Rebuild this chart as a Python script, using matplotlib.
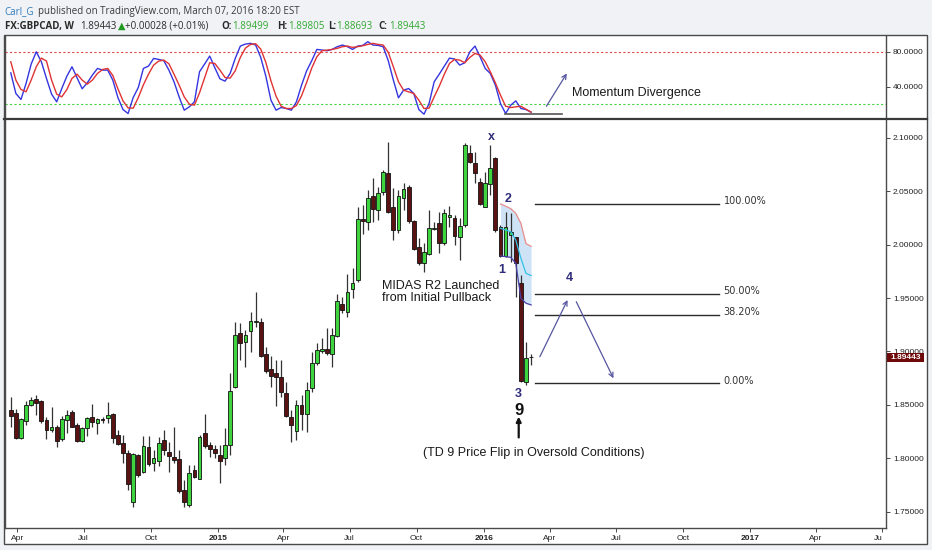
import matplotlib
matplotlib.use("Agg")
import matplotlib.pyplot as plt
import matplotlib.dates as mdates
import numpy as np
import pandas as pd
from matplotlib.patches import Rectangle
from matplotlib.lines import Line2D
from matplotlib.transforms import blended_transform_factory

# ---------------- data ----------------
week_start = "2014-03-23"
week_end = "2016-03-06"

opens = [1.8453, 1.8422, 1.8188, 1.8353, 1.8500, 1.8553, 1.8537, 1.8360, 1.8266, 1.8297,
         1.8179, 1.8360, 1.8431, 1.8307, 1.8166, 1.8282, 1.8385, 1.8335, 1.8366, 1.8375,
         1.8413, 1.8219, 1.8147, 1.8048, 1.7586, 1.8032, 1.7876, 1.8110, 1.7954, 1.7970,
         1.8172, 1.8063, 1.8016, 1.7991, 1.7704, 1.7564, 1.7892, 1.7810, 1.8241, 1.8126,
         1.8085, 1.8032, 1.8007, 1.8126, 1.8672, 1.9177, 1.9093, 1.9193, 1.9280, 1.9274,
         1.8974, 1.8837, 1.8796, 1.8765, 1.8609, 1.8385, 1.8257, 1.8500, 1.8413, 1.8656,
         1.8890, 1.9006, 1.9021, 1.8974, 1.9146, 1.9445, 1.9374, 1.9583, 1.9670, 2.0238,
         2.0216, 2.0456, 2.0325, 2.0497, 2.0668, 2.0356, 2.0138, 2.0434, 2.0544, 2.0225,
         1.9982, 1.9832, 1.9913, 2.0150, 2.0200, 2.0013, 2.0256, 2.0247, 2.0076, 2.0185,
         2.0862, 2.0762, 2.0590, 2.0356, 2.0569, 2.0809, 2.0169, 1.9895, 2.0091, 2.0076,
         1.9645, 1.8718, 1.89499]
highs = [1.8572, 1.8459, 1.8381, 1.8541, 1.8578, 1.8594, 1.8547, 1.8390, 1.8478, 1.8310,
         1.8397, 1.8453, 1.8453, 1.8328, 1.8297, 1.8391, 1.8509, 1.8381, 1.8385, 1.8525,
         1.8422, 1.8266, 1.8219, 1.8079, 1.8054, 1.8041, 1.8204, 1.8204, 1.8079, 1.8197,
         1.8266, 1.8157, 1.8291, 1.8079, 1.7798, 1.7938, 1.7938, 1.8219, 1.8413, 1.8157,
         1.8126, 1.8126, 1.8282, 1.8803, 1.9274, 1.9264, 1.9202, 1.9374, 1.9555, 1.9318,
         1.9046, 1.8959, 1.8921, 1.8921, 1.8718, 1.8453, 1.8547, 1.8594, 1.8712, 1.8999,
         1.9077, 1.9124, 1.9218, 1.9218, 1.9539, 1.9514, 1.9726, 1.9785, 2.0356, 2.0372,
         2.0512, 2.0622, 2.0544, 2.0700, 2.0965, 2.0528, 2.0512, 2.0575, 2.0559, 2.0232,
         2.0060, 2.0013, 2.0325, 2.0216, 2.0310, 2.0331, 2.0363, 2.0278, 2.0247, 2.0949,
         2.0934, 2.0871, 2.0622, 2.0684, 2.0934, 2.0824, 2.0185, 2.0310, 2.0300, 2.0076,
         1.9717, 1.9093, 1.89805]
lows = [1.8291, 1.8179, 1.8179, 1.8313, 1.8491, 1.8406, 1.8328, 1.8179, 1.8250, 1.8110,
        1.8163, 1.8235, 1.8290, 1.8157, 1.8157, 1.8204, 1.8297, 1.8229, 1.8328, 1.8335,
        1.8141, 1.8126, 1.7960, 1.7704, 1.7548, 1.7829, 1.7860, 1.7929, 1.7885, 1.7929,
        1.8032, 1.7867, 1.7954, 1.7673, 1.7548, 1.7548, 1.7814, 1.7804, 1.8094, 1.8010,
        1.7998, 1.7773, 1.7938, 1.8032, 1.8656, 1.8921, 1.8859, 1.8999, 1.9233, 1.8952,
        1.8796, 1.8672, 1.8491, 1.8578, 1.8391, 1.8157, 1.8172, 1.8266, 1.8250, 1.8625,
        1.8874, 1.8990, 1.8968, 1.8859, 1.9140, 1.9358, 1.9327, 1.9498, 1.9654, 2.0101,
        2.0138, 2.0216, 2.0232, 2.0466, 2.0294, 2.0044, 2.0113, 2.0325, 2.0200, 1.9951,
        1.9810, 1.9748, 1.9904, 2.0138, 1.9926, 1.9998, 2.0169, 1.9998, 1.9857, 2.0169,
        2.0762, 2.0581, 2.0372, 2.0350, 2.0466, 2.0122, 1.9888, 1.9888, 1.9842, 1.9514,
        1.8718, 1.8687, 1.88693]
closes = [1.8397, 1.8188, 1.8366, 1.8500, 1.8547, 1.8522, 1.8350, 1.8266, 1.8297, 1.8163,
          1.8366, 1.8406, 1.8297, 1.8163, 1.8282, 1.8375, 1.8344, 1.8366, 1.8363, 1.8406,
          1.8188, 1.8135, 1.8054, 1.7761, 1.8041, 1.7845, 1.8119, 1.7945, 1.8001, 1.8147,
          1.8079, 1.8023, 1.7985, 1.7689, 1.7586, 1.7860, 1.7820, 1.8197, 1.8119, 1.8085,
          1.8054, 1.7979, 1.8126, 1.8634, 1.9155, 1.9077, 1.9155, 1.9286, 1.9290, 1.8959,
          1.8818, 1.8771, 1.8765, 1.8625, 1.8397, 1.8313, 1.8500, 1.8413, 1.8640, 1.8890,
          1.9015, 1.9024, 1.8984, 1.9155, 1.9477, 1.9389, 1.9561, 1.9639, 2.0238, 2.0222,
          2.0434, 2.0335, 2.0481, 2.0684, 2.0310, 2.0138, 2.0456, 2.0519, 2.0225, 1.9960,
          1.9826, 1.9935, 2.0154, 2.0157, 2.0013, 2.0294, 2.0278, 2.0082, 2.0175, 2.0934,
          2.0778, 2.0675, 2.0381, 2.0575, 2.0715, 2.0138, 1.9895, 2.0169, 2.0122, 1.9826,
          1.8728, 1.89415, 1.89443]

stoch_k = [56.0, 32.4, 25.6, 43.9, 66.0, 80.0, 68.6, 49.6, 31.7, 22.9,
           38.1, 52.2, 62.9, 50.3, 37.8, 44.6, 53.4, 61.0, 59.1, 59.1,
           47.7, 27.8, 14.1, 9.6, 27.8, 39.3, 61.0, 63.7, 72.4, 71.3,
           69.8, 59.1, 45.8, 28.6, 13.4, 17.2, 22.9, 57.2, 66.0, 75.1,
           61.8, 49.2, 46.5, 55.3, 72.4, 86.5, 88.8, 89.6, 87.7, 73.6,
           52.2, 24.8, 13.4, 16.4, 15.3, 13.4, 22.9, 41.9, 58.3, 69.8,
           82.7, 82.0, 81.2, 82.7, 85.8, 87.7, 85.8, 82.7, 86.5, 87.3,
           91.5, 87.7, 87.3, 85.8, 69.8, 47.7, 27.5, 36.2, 38.1, 32.4,
           14.1, 8.8, 21.0, 45.8, 54.5, 63.7, 72.8, 71.7, 64.8, 67.5,
           80.0, 86.5, 74.3, 61.0, 55.3, 41.9, 21.0, 9.6, 19.1, 24.0,
           15.3, 14.1, 11.1]
stoch_d = [68.6, 47.7, 37.0, 34.3, 47.7, 62.9, 72.8, 69.4, 47.7, 31.7,
           28.6, 37.0, 49.6, 54.5, 47.7, 43.1, 47.7, 55.3, 59.8, 61.0,
           53.0, 37.8, 24.0, 16.0, 15.7, 27.8, 42.3, 54.5, 64.8, 69.4,
           70.5, 66.3, 54.5, 42.0, 28.6, 20.2, 19.1, 33.2, 50.3, 67.5,
           66.7, 59.1, 50.7, 49.9, 58.3, 73.6, 84.2, 88.4, 89.2, 83.1,
           67.9, 46.9, 29.4, 17.9, 15.3, 15.3, 18.7, 29.8, 45.0, 61.4,
           74.3, 81.2, 81.9, 82.7, 83.9, 85.8, 86.5, 85.0, 85.8, 86.9,
           88.4, 89.6, 88.4, 87.7, 79.3, 62.9, 45.8, 36.2, 34.3, 32.4,
           24.8, 15.3, 15.7, 28.6, 40.8, 54.5, 66.7, 71.3, 70.5, 67.5,
           73.6, 78.1, 76.2, 68.6, 57.2, 44.6, 30.5, 17.9, 16.4, 17.2,
           17.9, 14.5, 11.1]

# MIDAS R2 band (last weeks)
midas_dates = ["2016-01-24", "2016-01-31", "2016-02-07", "2016-02-14", "2016-02-21", "2016-02-28", "2016-03-06"]
midas_upper = [2.0381, 2.0362, 2.0338, 2.0294, 2.0200, 2.0010, 1.9985]
midas_mid = [2.0154, 2.0138, 2.0122, 2.0044, 1.9873, 1.9732, 1.9711]
midas_lower = [1.9895, 1.9888, 1.9882, 1.9826, 1.9498, 1.9452, 1.9436]

fib_low, fib_high = 1.8702, 2.0381
fib_ratios = [1.0, 0.5, 0.382, 0.0]

price_ticks = [1.75, 1.80, 1.85, 1.90, 1.95, 2.00, 2.05, 2.10]
stoch_ticks = [40, 80]
last_price = 1.89443
x_tick_labels = ["Apr", "Jul", "Oct", "2015", "Apr", "Jul", "Oct", "2016",
                 "Apr", "Jul", "Oct", "2017", "Apr", "Ju"]

# ---------------- figure ----------------
W, H = 932, 550
fig = plt.figure(figsize=(W / 100, H / 100), dpi=100)
fig.patch.set_facecolor('#f0f2f5')

def fx(px):
    return px / W

def fy(py):
    return 1 - py / H

fig.add_artist(Rectangle((fx(4), fy(544)), fx(927) - fx(4), fy(35) - fy(544),
                         transform=fig.transFigure, facecolor='white',
                         edgecolor='#4a4a4a', lw=1.0, zorder=0))

ax_s = fig.add_axes([fx(5), fy(118.5), fx(886) - fx(5), fy(36) - fy(118.5)])
ax = fig.add_axes([fx(5), fy(528), fx(886) - fx(5), fy(120) - fy(528)])
for a in (ax, ax_s):
    a.set_facecolor('none')

dates = pd.date_range(week_start, week_end, freq='W-SUN')
x = mdates.date2num(dates)
xmin = mdates.date2num(pd.Timestamp("2014-03-15 02:00"))
xmax = mdates.date2num(pd.Timestamp("2017-07-06"))

TICKFONT = 'Liberation Sans'
AXC = '#4a4a4a'

# ---------------- stochastic panel ----------------
ax_s.plot(x, stoch_k, color='#3535e0', lw=1.0, zorder=3)
ax_s.plot(x, stoch_d, color='#e03333', lw=1.0, zorder=3)
ax_s.axhline(80, color='#e04848', lw=0.8, ls=(0, (2, 2)), zorder=1)
ax_s.axhline(20, color='#44d444', lw=0.8, ls=(0, (2, 2)), zorder=1)
ax_s.set_xlim(xmin, xmax)
ax_s.set_ylim(3.9, 98.0)
ax_s.set_xticks([])
ax_s.yaxis.tick_right()
ax_s.set_yticks(stoch_ticks)
ax_s.set_yticklabels([f"{v:.4f}" for v in stoch_ticks], fontsize=6, family=TICKFONT, color='#222222')
ax_s.tick_params(axis='y', length=3, width=0.7, color=AXC, pad=2)
for s in ('top', 'bottom'):
    ax_s.spines[s].set_visible(False)
for s in ('left', 'right'):
    ax_s.spines[s].set_color(AXC)
    ax_s.spines[s].set_linewidth(1.0)

# divergence annotations
div_dates = mdates.date2num(pd.to_datetime(["2016-01-30", "2016-04-17"]))
ax_s.plot(div_dates, [9.6, 9.6], color='#555555', lw=1.2, zorder=4)
ax_s.annotate('', xy=(mdates.date2num(pd.Timestamp("2016-04-24")), 55.3),
              xytext=(mdates.date2num(pd.Timestamp("2016-03-27")), 17.9),
              arrowprops=dict(arrowstyle='->', color='#5656a0', lw=0.9,
                              shrinkA=0, shrinkB=0, mutation_scale=8))
ax_s.text(mdates.date2num(pd.Timestamp("2016-05-01")), 32.5, "Momentum Divergence",
          fontsize=9, family=TICKFONT, color='#1a1a1a', va='center', ha='left')

# separator line between panels
fig.add_artist(Line2D([fx(4), fx(927)], [fy(119.2), fy(119.2)], transform=fig.transFigure,
                      color='#3a3a3a', lw=1.6))

# ---------------- main price panel ----------------
o = np.array(opens)
c = np.array(closes)
hi = np.array(highs)
lo = np.array(lows)
up = c >= o
body_bottom = np.minimum(o, c)
body_h = np.maximum(np.abs(c - o), 0.0005)
ax.vlines(x, lo, hi, color='#333333', lw=0.9, zorder=2)
ax.bar(x, body_h, bottom=body_bottom, width=5.2,
       color=np.where(up, '#3ed43e', '#5a1212'), edgecolor='#111111', lw=0.6, zorder=3)

# MIDAS band
mx = mdates.date2num(pd.to_datetime(midas_dates))
ax.fill_between(mx, midas_lower, midas_upper, color='#a9cdf0', alpha=0.55, lw=0, zorder=1)
ax.plot(mx, midas_upper, color='#e88c8c', lw=0.9, zorder=4)
ax.plot(mx, midas_mid, color='#32c2e6', lw=0.9, zorder=4)
ax.plot(mx, midas_lower, color='#4a3fa8', lw=0.9, zorder=4)

# fibonacci levels
fib_x0 = mdates.date2num(pd.Timestamp("2016-03-11"))
fib_x1 = mdates.date2num(pd.Timestamp("2016-11-19"))
fib_lx = mdates.date2num(pd.Timestamp("2016-11-25"))
for r in fib_ratios:
    lvl = fib_low + r * (fib_high - fib_low)
    ax.plot([fib_x0, fib_x1], [lvl, lvl], color='#2b2b2b', lw=1.0, zorder=2)
    ax.text(fib_lx, lvl + 0.0025, f"{r * 100:.2f}%", fontsize=7, family='DejaVu Sans',
            color='#333333', va='center', ha='left')

# wave labels
NAVY = '#2e2b7a'
def dn(s):
    return mdates.date2num(pd.Timestamp(s))

ax.text(dn("2016-01-12"), 2.1008, "x", fontsize=9, fontweight='bold', color=NAVY,
        family=TICKFONT, ha='center', va='center')
ax.text(dn("2016-02-03"), 2.0428, "2", fontsize=9, fontweight='bold', color=NAVY,
        family=TICKFONT, ha='center', va='center')
ax.text(dn("2016-01-26"), 1.9763, "1", fontsize=9, fontweight='bold', color=NAVY,
        family=TICKFONT, ha='center', va='center')
ax.text(dn("2016-02-17"), 1.8602, "3", fontsize=9, fontweight='bold', color=NAVY,
        family=TICKFONT, ha='center', va='center')
ax.text(dn("2016-04-28"), 1.9688, "4", fontsize=9, fontweight='bold', color=NAVY,
        family=TICKFONT, ha='center', va='center')
ax.text(dn("2016-02-18"), 1.8452, "9", fontsize=12, fontweight='bold', color='#111111',
        family=TICKFONT, ha='center', va='center')
ax.annotate('', xy=(dn("2016-02-18"), 1.8390), xytext=(dn("2016-02-18"), 1.8195),
            arrowprops=dict(arrowstyle='-|>', color='#111111', lw=1.6,
                            shrinkA=0, shrinkB=0, mutation_scale=7))

ax.text(dn("2015-08-14"), 1.9553, "MIDAS R2 Launched\nfrom Initial Pullback", fontsize=9,
        family=TICKFONT, color='#1a1a1a', ha='left', va='center', linespacing=1.0)
ax.text(dn("2015-10-10"), 1.8050, "(TD 9 Price Flip in Oversold Conditions)", fontsize=9,
        family=TICKFONT, color='#1a1a1a', ha='left', va='center')

# projection arrows
arrow_kw = dict(arrowstyle='->', color='#5656a0', lw=0.9, shrinkA=0, shrinkB=0, mutation_scale=8)
ax.annotate('', xy=(dn("2016-04-25"), 1.9482), xytext=(dn("2016-03-18"), 1.8951), arrowprops=arrow_kw)
ax.annotate('', xy=(dn("2016-06-27"), 1.8749), xytext=(dn("2016-05-07"), 1.9466), arrowprops=arrow_kw)

# axes cosmetics
ax.set_xlim(xmin, xmax)
ax.set_ylim(1.7347, 2.1168)
ax.yaxis.tick_right()
ax.set_yticks(price_ticks)
ax.set_yticklabels([f"{v:.5f}" for v in price_ticks], fontsize=6, family=TICKFONT, color='#222222')
ax.tick_params(axis='y', length=3, width=0.7, color=AXC, pad=2)
ax.spines['top'].set_visible(False)
for s in ('left', 'right', 'bottom'):
    ax.spines[s].set_color(AXC)
    ax.spines[s].set_linewidth(1.0)

tick_dates = pd.date_range("2014-04-01", "2017-07-01", freq='QS')
ax.set_xticks(mdates.date2num(tick_dates))
ax.set_xticklabels(x_tick_labels, fontsize=6, family=TICKFONT, color='#222222')
ax.tick_params(axis='x', length=3, width=0.7, color=AXC, pad=2)
for lbl in ax.get_xticklabels():
    if lbl.get_text().isdigit():
        lbl.set_fontweight('bold')
ax.get_xticklabels()[-1].set_horizontalalignment('right')
ax.get_xticklabels()[-1].set_x(mdates.date2num(pd.Timestamp("2017-07-04")))

# current price tag
bt = blended_transform_factory(fig.transFigure, ax.transData)
box_h = 9.0 / 1068
ax.add_patch(Rectangle((fx(886.5), last_price - box_h / 2), fx(924) - fx(886.5), box_h,
                       transform=bt, facecolor='#6e0a0a', edgecolor='none', clip_on=False, zorder=10))
ax.text(fx(890), last_price, f"{last_price:.5f}", transform=bt, fontsize=6, fontweight='bold',
        family=TICKFONT, color='white', va='center', ha='left', zorder=11, clip_on=False)

# ---------------- header ----------------
HF = 'Open Sans'
fs = 7.0
fig.text(fx(4), fy(14), "Carl_G", fontsize=fs, family=HF, color='#2f7bbd', va='baseline')
fig.text(fx(38), fy(14), "published on TradingView.com, March 07, 2016 18:20 EST",
         fontsize=fs, family=HF, color='#3a3a3a', va='baseline')
y2 = fy(29)
GR = '#33a833'
fig.text(fx(5), y2, "FX:GBPCAD, W", fontsize=fs, family=HF, fontweight='bold', color='#2a2a2a', va='baseline')
fig.text(fx(80), y2, "1.89443", fontsize=fs, family=HF, color='#2a2a2a', va='baseline')
fig.text(fx(117.5), y2, "\u25B2", fontsize=fs, family='DejaVu Sans', color='#1f9a1f', va='baseline')
fig.text(fx(125), y2, "+0.00028 (+0.01%)", fontsize=fs, family=HF, color='#2a2a2a', va='baseline')
pairs = [("O:", 221, "1.89499"), ("H:", 277, "1.89805"),
         ("L:", 328, "1.88693"), ("C:", 378, "1.89443")]
for k, kx, v in pairs:
    fig.text(fx(kx), y2, k, fontsize=fs, family=HF, fontweight='bold', color='#2a2a2a', va='baseline')
    fig.text(fx(kx + (11 if k in ("O:", "H:", "C:") else 8)), y2, v, fontsize=fs, family=HF,
             color=GR, va='baseline')

fig.savefig("out.png", dpi=100, facecolor=fig.get_facecolor())
